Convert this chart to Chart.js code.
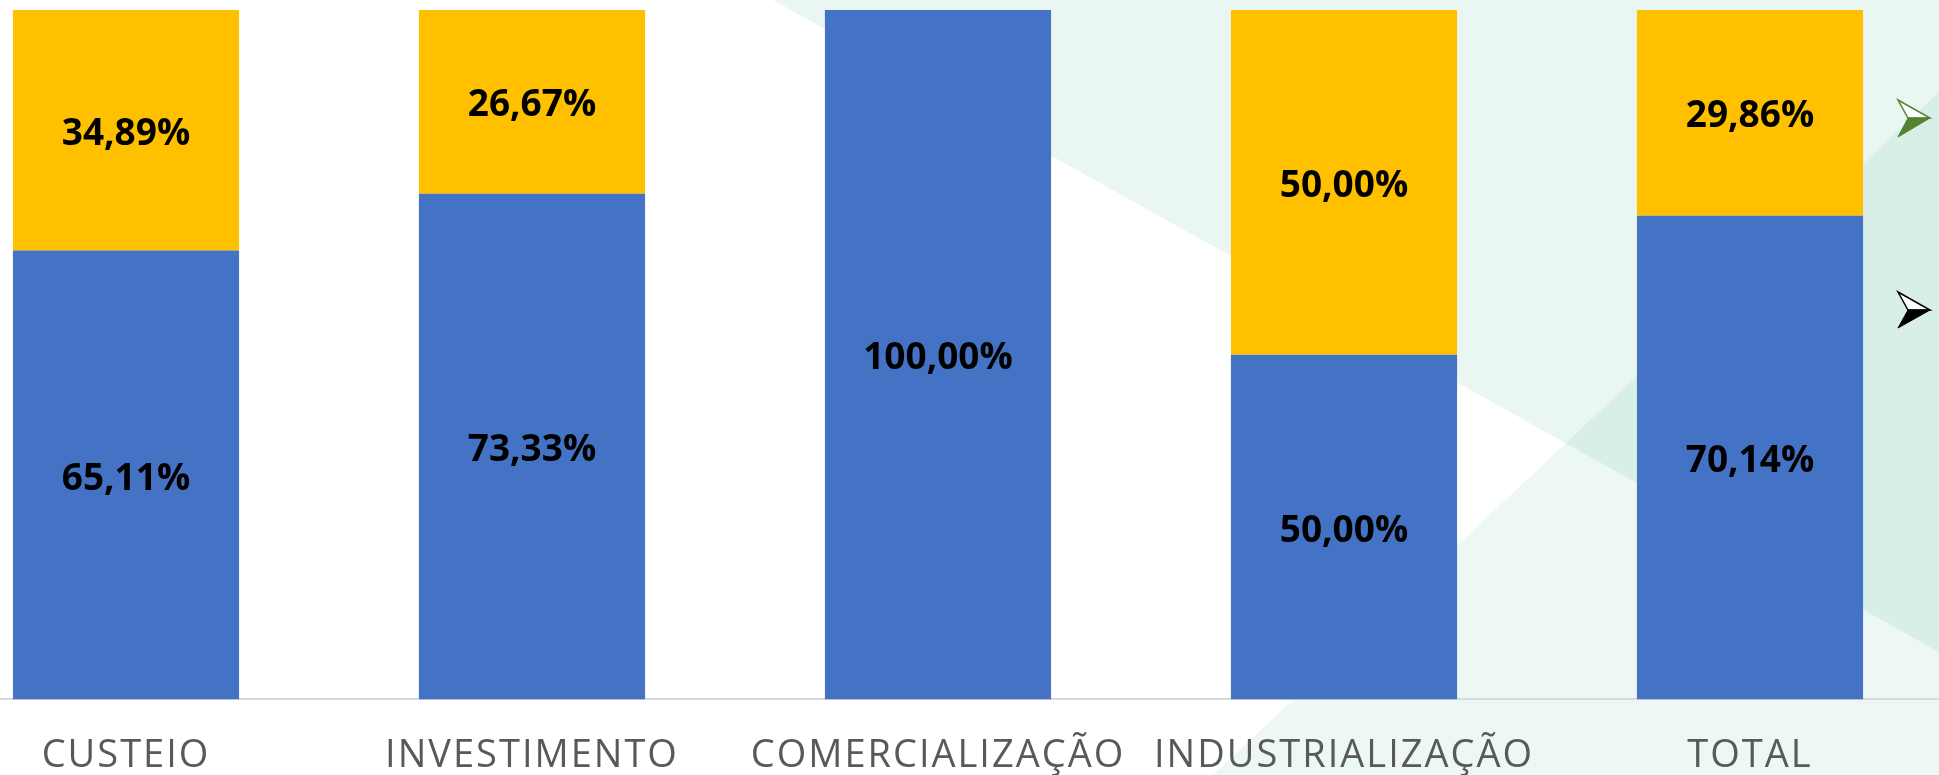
<!DOCTYPE html>
<html>
<head>
<meta charset="utf-8">
<script src="https://cdn.jsdelivr.net/npm/chart.js@4/dist/chart.umd.min.js"></script>
<style>
  html, body { margin: 0; padding: 0; background: #ffffff; overflow: hidden; }
  #stage { position: relative; width: 1939px; height: 775px; overflow: hidden; }
  #bg { position: absolute; left: 0; top: 0; }
  #chartBox { position: absolute; left: -77px; top: 0; width: 2030px; height: 813px; }
</style>
</head>
<body>
<div id="stage">
  <svg id="bg" width="1939" height="775">
    <polygon points="773,0 1939,0 1939,652" fill="rgb(0,150,110)" fill-opacity="0.085"/>
    <polygon points="1213,775 1939,92 1939,775" fill="rgb(0,150,110)" fill-opacity="0.07"/>
    <!-- marcadores de tópico do slide -->
    <polygon points="1898,100 1930,118 1908,118" fill="#ffffff" stroke="#548235" stroke-width="1.5"/>
    <polygon points="1908,118 1930,118 1898,137" fill="#548235" stroke="#548235" stroke-width="1"/>
    <polygon points="1898,292 1930,310 1908,310" fill="#ffffff" stroke="#000000" stroke-width="1.5"/>
    <polygon points="1908,310 1930,310 1898,328" fill="#000000" stroke="#000000" stroke-width="1"/>
  </svg>
  <div id="chartBox"><canvas id="barChart"></canvas></div>
</div>
<script>
// dados
const categorias = ['CUSTEIO', 'INVESTIMENTO', 'COMERCIALIZAÇÃO', 'INDUSTRIALIZAÇÃO', 'TOTAL'];
const serieAzul = [65.11, 73.33, 100.00, 50.00, 70.14];
const serieAmarela = [34.89, 26.67, 0, 50.00, 29.86];

const corAzul = '#4472C4';
const corAmarela = '#FFC000';

function formatarPct(v) {
    return v.toFixed(2).replace('.', ',') + '%';
}

// rótulos no meio de cada segmento
const rotulosPlugin = {
    id: 'rotulos',
    beforeDraw(chart) {
        chart.ctx.letterSpacing = '2px';
    },
    afterDatasetsDraw(chart) {
        const ctx = chart.ctx;
        ctx.save();
        ctx.letterSpacing = '0px';
        ctx.font = 'bold 37px "Open Sans"';
        ctx.fillStyle = '#000000';
        ctx.textAlign = 'center';
        ctx.textBaseline = 'middle';
        chart.data.datasets.forEach((ds, di) => {
            const meta = chart.getDatasetMeta(di);
            meta.data.forEach((bar, i) => {
                const v = ds.data[i];
                if (!v) return;
                const y = (bar.y + bar.base) / 2 + 4;
                ctx.fillText(formatarPct(v), bar.x, y);
            });
        });
        ctx.restore();
    }
};

const ctx = document.getElementById('barChart').getContext('2d');
const barChart = new Chart(ctx, {
    type: 'bar',
    data: {
        labels: categorias,
        datasets: [
            {
                label: 'Série 1',
                data: serieAzul,
                backgroundColor: corAzul,
                borderWidth: 0,
                barPercentage: 1,
                categoryPercentage: 0.557
            },
            {
                label: 'Série 2',
                data: serieAmarela,
                backgroundColor: corAmarela,
                borderWidth: 0,
                barPercentage: 1,
                categoryPercentage: 0.557
            }
        ]
    },
    options: {
        responsive: true,
        maintainAspectRatio: false,
        animation: false,
        layout: { padding: { top: 10, left: 0, right: 0, bottom: 0 } },
        plugins: {
            legend: { display: false },
            tooltip: { enabled: false }
        },
        scales: {
            x: {
                stacked: true,
                grid: { display: false, drawTicks: false },
                border: { display: true, color: '#D9D9D9', width: 2 },
                ticks: {
                    color: '#595959',
                    font: { family: 'Open Sans', size: 38, weight: '400' },
                    padding: 34,
                    autoSkip: false,
                    maxRotation: 0,
                    minRotation: 0
                }
            },
            y: {
                stacked: true,
                display: false,
                min: 0,
                max: 100
            }
        }
    },
    plugins: [rotulosPlugin]
});
</script>
</body>
</html>
